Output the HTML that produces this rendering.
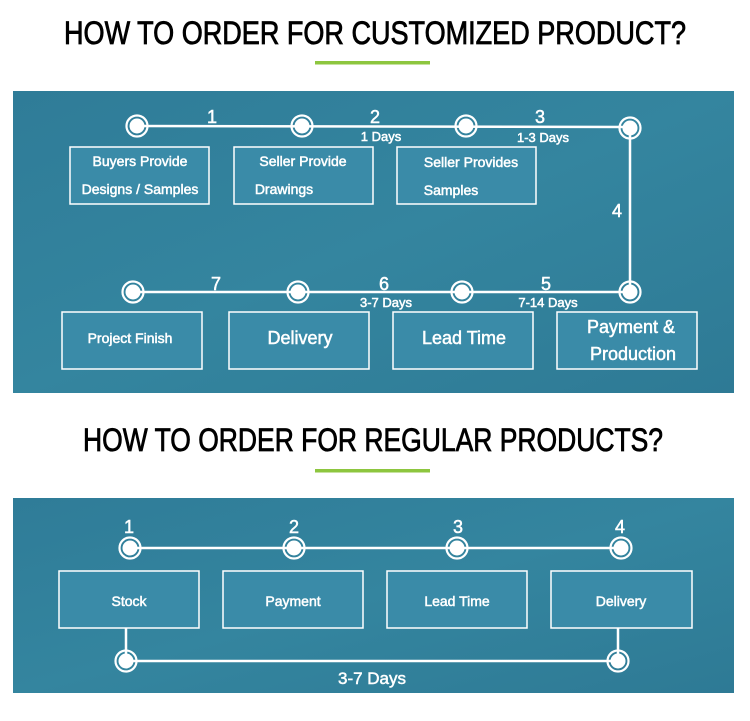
<!DOCTYPE html>
<html><head><meta charset="utf-8"><style>
html,body{margin:0;padding:0;background:#fff;}
svg{display:block;font-family:"Liberation Sans",sans-serif;}
</style></head><body>
<svg width="750" height="721" viewBox="0 0 750 721" xmlns="http://www.w3.org/2000/svg">
<defs>
<linearGradient id="bg" x1="0" y1="0" x2="1" y2="1">
<stop offset="0" stop-color="#2f7c98"/><stop offset="0.5" stop-color="#34859f"/><stop offset="1" stop-color="#2e7a95"/>
</linearGradient>
<g id="n"><circle r="10.5" fill="none" stroke="#fff" stroke-width="2.2"/><circle r="7.5" fill="#fff"/></g>
</defs>
<text x="375" y="44" text-anchor="middle" font-size="32" fill="#000" stroke="#000" stroke-width="0.8" textLength="622" lengthAdjust="spacingAndGlyphs">HOW TO ORDER FOR CUSTOMIZED PRODUCT?</text>
<rect x="315" y="61" width="115" height="3.5" fill="#8dc63f"/>
<rect x="13" y="91" width="721" height="302" fill="url(#bg)"/>
<g stroke="#fff" stroke-width="2.5" fill="none">
<polyline points="137,126 630,127 630,292 133,292"/>
</g>
<g fill="#3a8ba8" stroke="#fff" stroke-width="1.5">
<rect x="70" y="147" width="139" height="57"/>
<rect x="234" y="147" width="139" height="57"/>
<rect x="397" y="147" width="139" height="57"/>
<rect x="62" y="312" width="140" height="57"/>
<rect x="229" y="312" width="140" height="57"/>
<rect x="393" y="312" width="140" height="57"/>
<rect x="557" y="312" width="140" height="57"/>
</g>
<use href="#n" x="137" y="126"/><use href="#n" x="302" y="126"/><use href="#n" x="466" y="126"/><use href="#n" x="630" y="128"/>
<use href="#n" x="133" y="292"/><use href="#n" x="298" y="292"/><use href="#n" x="462" y="292"/><use href="#n" x="630" y="292"/>
<g fill="#fff" stroke="#fff" stroke-width="0.5" text-anchor="middle">
<text x="212" y="123" font-size="18">1</text>
<text x="375" y="123" font-size="18">2</text>
<text x="381" y="141" font-size="13">1 Days</text>
<text x="540" y="123" font-size="18">3</text>
<text x="543" y="142" font-size="13">1-3 Days</text>
<text x="617" y="217" font-size="18">4</text>
<text x="216" y="290" font-size="18">7</text>
<text x="384" y="290" font-size="18">6</text>
<text x="386" y="307" font-size="13">3-7 Days</text>
<text x="546" y="290" font-size="18">5</text>
<text x="548" y="307" font-size="13">7-14 Days</text>
<text x="140" y="166" font-size="14">Buyers Provide</text>
<text x="140" y="194" font-size="14">Designs / Samples</text>
<text x="303" y="166" font-size="14">Seller Provide</text>
<text x="284" y="194" font-size="14">Drawings</text>
<text x="471" y="167" font-size="14">Seller Provides</text>
<text x="451" y="195" font-size="14">Samples</text>
<text x="130" y="343" font-size="14">Project Finish</text>
<text x="300" y="344" font-size="18">Delivery</text>
<text x="464" y="344" font-size="18">Lead Time</text>
<text x="631" y="333" font-size="18">Payment &amp;</text>
<text x="633" y="360" font-size="18">Production</text>
</g>
<text x="373" y="451" text-anchor="middle" font-size="32" fill="#000" stroke="#000" stroke-width="0.8" textLength="580" lengthAdjust="spacingAndGlyphs">HOW TO ORDER FOR REGULAR PRODUCTS?</text>
<rect x="315" y="469" width="115" height="3.5" fill="#8dc63f"/>
<rect x="13" y="498" width="721" height="195" fill="url(#bg)"/>
<g stroke="#fff" stroke-width="2.5" fill="none">
<line x1="130" y1="548" x2="621" y2="548"/>
<polyline points="126,628 126,661 618,661 618,628"/>
</g>
<g fill="#3a8ba8" stroke="#fff" stroke-width="1.5">
<rect x="59" y="571" width="140" height="57"/>
<rect x="223" y="571" width="140" height="57"/>
<rect x="387" y="571" width="140" height="57"/>
<rect x="551" y="571" width="141" height="57"/>
</g>
<use href="#n" x="130" y="548"/><use href="#n" x="294" y="548"/><use href="#n" x="457" y="548"/><use href="#n" x="621" y="548"/>
<use href="#n" x="126" y="661"/><use href="#n" x="618" y="661"/>
<g fill="#fff" stroke="#fff" stroke-width="0.5" text-anchor="middle">
<text x="129" y="533" font-size="18">1</text>
<text x="294" y="533" font-size="18">2</text>
<text x="458" y="533" font-size="18">3</text>
<text x="620" y="533" font-size="18">4</text>
<text x="129" y="606" font-size="14">Stock</text>
<text x="293" y="606" font-size="14">Payment</text>
<text x="457" y="606" font-size="14">Lead Time</text>
<text x="621" y="606" font-size="14">Delivery</text>
<text x="372" y="684" font-size="17">3-7 Days</text>
</g>
</svg>
</body></html>
